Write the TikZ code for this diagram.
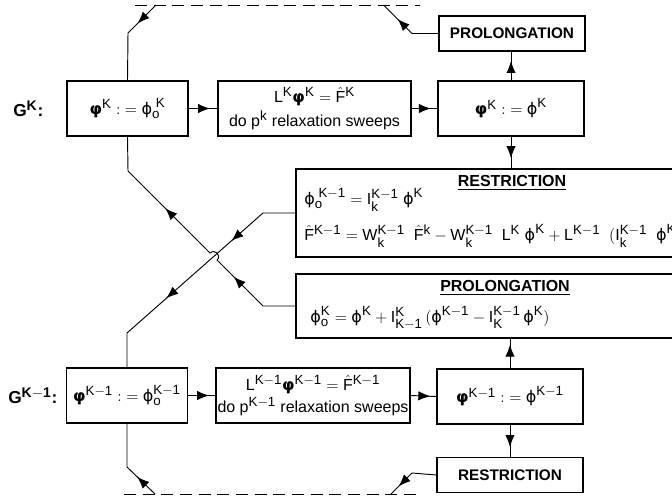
\documentclass[tikz,border=0pt]{standalone}
\usepackage{amsmath}
\usepackage{fontspec}
\setmainfont{Liberation Sans}
\newfontfamily\grk{DejaVu Sans}
\DeclareMathSizes{12}{12}{10}{8}
\DeclareMathSizes{13}{13}{10.5}{8}
\usetikzlibrary{positioning}
\usetikzlibrary{arrows.meta}
\usetikzlibrary{decorations.markings}
\newcommand{\R}[1]{\mathrm{#1}}
\newcommand{\vphi}{\text{\grk\bfseries φ}}
\newcommand{\sphi}{\text{\grk ϕ}}
\newcommand{\Fh}{\hat{\R{F}}}
\newcommand{\asg}{\mathrel{:\;=}}
\tikzset{
    txt/.style = {font=\fontsize{12}{14}\selectfont, inner sep=0pt},
    lbl/.style = {font=\fontsize{13}{15}\selectfont\bfseries, inner sep=0pt},
    cell/.style = {rectangle, draw=black, line width=1.1pt, minimum width=90.75pt, minimum height=41.25pt, inner sep=1pt, align=center, font=\fontsize{12}{14}\selectfont},
    cellw/.style = {cell, minimum width=144.75pt},
    cellm/.style = {cell, minimum width=109.5pt},
    oper/.style = {cell, minimum width=109.5pt, minimum height=26.5pt, font=\fontsize{11.5}{14}\selectfont\bfseries},
    wide/.style = {rectangle, draw=black, line width=1.1pt, minimum width=303pt, minimum height=#1},
    conn/.style = {line width=0.7pt},
    dashline/.style = {line width=0.7pt, dash pattern=on 9pt off 5pt},
    midarrow/.style = {conn, decoration={markings, mark=at position #1 with {\arrow{Latex[length=9pt,width=7pt]}}}, postaction={decorate}},
    twoarrows/.style 2 args = {conn, decoration={markings,
        mark=at position #1 with {\arrow{Latex[length=9pt,width=7pt]}},
        mark=at position #2 with {\arrow{Latex[length=9pt,width=7pt]}}}, postaction={decorate}}
}

\begin{document}
\begin{tikzpicture}[x=0.75pt,y=-0.75pt]
\useasboundingbox (0,0) rectangle (672,496);
\clip (0,0) rectangle (672,496);
%
% level K
\node[lbl, anchor=west] (gk) at (13,109) {G$^{\mathbf{K}}$:};
\node[cell] (k1) at (127.5,108.5) {$\vphi^{\R{K}} \asg \sphi_{\R{o}}^{\;\R{K}}$};
\node[cellw] (k2) at (314.5,108.5) {$\R{L}^{\R{K}}\vphi^{\R{K}} = \Fh^{\R{K}}$\\[3pt] do p$^{\R{k}}$ relaxation sweeps};
\node[cellm] (k3) at (511,108.5) {$\vphi^{\R{K}} \asg \sphi^{\R{K}}$};
\node[oper] (kprol) at (512,33.5) {PROLONGATION};
%
% transfer boxes between the levels
\node[wide=66pt] (restr) at (498,213) {};
\node[txt, font=\fontsize{12}{14}\selectfont\bfseries] (rtitle) at (512,183) {\underline{RESTRICTION}};
\node[txt, anchor=west] (rline1) at (304,200) {$\sphi_{\R{o}}^{\;\R{K-1}} = \R{I}_{\R{k}}^{\R{K-1}}\;\sphi^{\R{K}}$};
\node[txt, anchor=west] (rline2) at (304,236) {$\Fh^{\R{K-1}} = \R{W}_{\R{k}}^{\R{K-1}}\;\;\Fh^{\R{k}} - \R{W}_{\R{k}}^{\R{K-1}}\;\;\R{L}^{\R{K}}\;\sphi^{\R{K}} + \R{L}^{\R{K-1}}\;\;(\R{I}_{\R{k}}^{\R{K-1}}\;\;\sphi^{\R{K}})$};
\node[wide=48pt] (prol) at (498,306) {};
\node[txt, font=\fontsize{12}{14}\selectfont\bfseries] (ptitle) at (505,288) {\underline{PROLONGATION}};
\node[txt, anchor=west] (pline) at (310,318) {$\sphi_{\R{o}}^{\R{K}} = \sphi^{\R{K}} + \R{I}_{\R{K-1}}^{\R{K}}\,(\sphi^{\R{K-1}} - \R{I}_{\R{K}}^{\R{K-1}}\,\sphi^{\R{K}})$};
%
% level K-1
\node[lbl, anchor=west] (gkm) at (8,396) {G$^{\mathbf{K-1}}$:};
\node[cell] (m1) at (127,395.5) {$\vphi^{\R{K-1}} \asg \sphi_{\R{o}}^{\R{K-1}}$};
\node[cellw] (m2) at (313,395.5) {$\R{L}^{\R{K-1}}\vphi^{\R{K-1}} = \Fh^{\R{K-1}}$\\[3pt] do p$^{\R{K-1}}$ relaxation sweeps};
\node[cellm] (m3) at (510,396.5) {$\vphi^{\R{K-1}} \asg \sphi^{\R{K-1}}$};
\node[oper] (mrestr) at (510,475) {RESTRICTION};
%
% neighbour levels
\coordinate (dtl) at (135,5);
\coordinate (dtr) at (420,5);
\coordinate (dbl) at (124,494);
\coordinate (dbr) at (420,494);
\draw[dashline] (dtl) -- (dtr);
\draw[dashline] (dbl) -- (dbr);
%
\coordinate (t1) at (156,5);
\coordinate (kup) at (128,33);
\coordinate (kpl) at (412,33.5);
\coordinate (t2) at (383.5,5);
\coordinate (rkink) at (263,213);
\coordinate (rdrop) at (127,333);
\coordinate (pkink) at (263,306);
\coordinate (jumpa) at (217.1,260.1);
\coordinate (jumpb) at (210.1,253.1);
\coordinate (pdrop) at (128,171);
\coordinate (mrl) at (412,473);
\coordinate (t4) at (391,494);
\coordinate (t3) at (155,494);
\coordinate (mdown) at (127,467);
%
\draw[midarrow=0.75] (k1.east) -- (k2.west);
\draw[midarrow=0.75] (k2.east) -- (k3.west);
\draw[midarrow=0.68] (k3.north) -- (k3.north |- kprol.south);
\draw[midarrow=0.68] (k3.south) -- (k3.south |- restr.north);
\draw[midarrow=0.3] (t1) -- (kup) -- (k1.north);
\draw[midarrow=0.7] (kprol.west) -- (kpl) -- (t2);
%
\draw[twoarrows={0.3}{0.65}] (restr.west) -- (rkink) -- (rdrop) -- (m1.north);
\draw[twoarrows={0.28}{0.67}] (prol.west) -- (pkink) -- (jumpa)
    .. controls (221.8,255.4) and (214.8,248.4) .. (jumpb) -- (pdrop) -- (k1.south);
%
\draw[midarrow=0.77] (m1.east) -- (m2.west);
\draw[midarrow=0.77] (m2.east) -- (m3.west);
\draw[midarrow=0.8] (m3.north) -- (m3.north |- prol.south);
\draw[midarrow=0.7] (m3.south) -- (m3.south |- mrestr.north);
\draw[midarrow=0.8] (mrestr.west) -- (mrl) -- (t4);
\draw[midarrow=0.3] (t3) -- (mdown) -- (m1.south);

\end{tikzpicture}
\end{document}
